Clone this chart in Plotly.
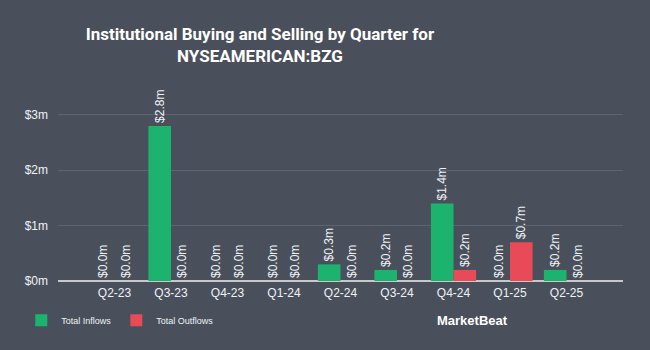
import plotly.graph_objects as go

quarters = ["Q2-23", "Q3-23", "Q4-23", "Q1-24", "Q2-24", "Q3-24", "Q4-24", "Q1-25", "Q2-25"]
inflows = [0.0, 2.8, 0.0, 0.0, 0.3, 0.2, 1.4, 0.0, 0.2]
outflows = [0.0, 0.0, 0.0, 0.0, 0.0, 0.0, 0.2, 0.7, 0.0]
ytick_vals = [0, 1, 2, 3]
ytick_text = ["$0m", "$1m", "$2m", "$3m"]

BG = "#4a505b"
GREEN = "#1cb36f"
RED = "#e84a57"
TXT = "#eef2f8"

fig = go.Figure()
fig.add_trace(go.Bar(
    x=quarters, y=inflows, name="Total Inflows", marker=dict(color=GREEN, line=dict(width=0)),
    text=[f"${v:.1f}m" for v in inflows], textposition="outside", textangle=-90,
    constraintext="none",
    textfont=dict(color=TXT, size=12, family="Liberation Sans, Arial"), cliponaxis=False,
))
fig.add_trace(go.Bar(
    x=quarters, y=outflows, name="Total Outflows", marker=dict(color=RED, line=dict(width=0)),
    text=[f"${v:.1f}m" for v in outflows], textposition="outside", textangle=-90,
    constraintext="none",
    textfont=dict(color=TXT, size=12, family="Liberation Sans, Arial"), cliponaxis=False,
))

fig.update_layout(
    width=650, height=350,
    paper_bgcolor=BG, plot_bgcolor=BG,
    margin=dict(l=58, r=27, t=85, b=69),
    barmode="group", bargap=0.2, bargroupgap=0,
    title=dict(
        text="Institutional Buying and Selling by Quarter for<br>NYSEAMERICAN:BZG",
        x=0.4, xanchor="center", y=0.885, yanchor="middle",
        font=dict(family="Roboto, Liberation Sans, Arial", size=17, color="#ffffff", weight="bold"),
    ),
    font=dict(family="Liberation Sans, Arial", color=TXT, size=12),
    showlegend=True,
    legend=dict(
        orientation="h", x=-0.065, xanchor="left", y=-0.2, yanchor="middle",
        font=dict(size=9, color=TXT), bgcolor="rgba(0,0,0,0)",
        itemwidth=30, traceorder="normal",
    ),
    xaxis=dict(
        range=[-1, 9], showgrid=False, zeroline=False, showline=False,
        tickfont=dict(size=12, color=TXT), ticks="", fixedrange=True,
        ticklabelstandoff=3,
    ),
    yaxis=dict(
        range=[0, 3.54], tickvals=ytick_vals, ticktext=ytick_text,
        showgrid=True, gridcolor="#5e646f", gridwidth=1,
        zeroline=True, zerolinecolor="#c8c8c8", zerolinewidth=2,
        showline=False, tickfont=dict(size=12, color=TXT), ticks="", ticklabelstandoff=9,
    ),
    annotations=[
        dict(text="<b>MarketBeat</b>", xref="paper", yref="paper", x=0.8, y=-0.2,
             xanchor="right", yanchor="middle", showarrow=False,
             font=dict(family="Liberation Sans, Arial", size=13, color="#ffffff")),
    ],
)

fig.write_html("out.html")
